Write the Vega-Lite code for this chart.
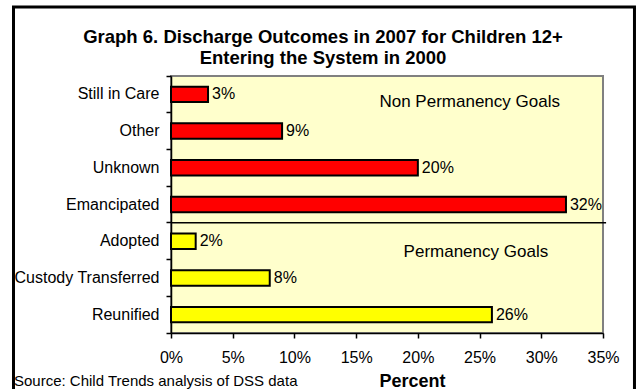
{
  "$schema": "https://vega.github.io/schema/vega-lite/v6.json",
  "width": 432,
  "height": 257,
  "autosize": "none",
  "padding": {"left": 171, "top": 76, "right": 33, "bottom": 56},
  "background": "white",
  "config": {
    "font": "Liberation Sans",
    "view": {"fill": "#FFFFCC", "stroke": "#808080", "strokeWidth": 2}
  },
  "title": {
    "text": ["Graph 6. Discharge Outcomes in 2007 for Children 12+", "Entering the System in 2000"],
    "font": "Liberation Sans",
    "fontSize": 18.5,
    "fontWeight": "bold",
    "color": "black",
    "anchor": "middle",
    "frame": "group",
    "dx": -64,
    "dy": 70,
    "offset": 8,
    "lineHeight": 21
  },
  "datasets": {
    "outcomes": [
      {"outcome": "Still in Care", "percent": 0.03, "group": "Non Permanency Goals"},
      {"outcome": "Other", "percent": 0.09, "group": "Non Permanency Goals"},
      {"outcome": "Unknown", "percent": 0.20, "group": "Non Permanency Goals"},
      {"outcome": "Emancipated", "percent": 0.32, "group": "Non Permanency Goals"},
      {"outcome": "Adopted", "percent": 0.02, "group": "Permanency Goals"},
      {"outcome": "Custody Transferred", "percent": 0.08, "group": "Permanency Goals"},
      {"outcome": "Reunified", "percent": 0.26, "group": "Permanency Goals"}
    ]
  },
  "layer": [
    {
      "data": {"values": [{"note": "Source: Child Trends analysis of DSS data"}]},
      "layer": [
        {
          "mark": {"type": "rect", "filled": false, "stroke": "black", "strokeWidth": 3, "clip": false},
          "encoding": {
            "x": {"datum": -0.1276, "type": "quantitative", "scale": {"domain": [0, 0.35], "nice": false, "zero": false}, "axis": null},
            "x2": {"datum": 0.3755},
            "y": {"datum": 1.2685, "type": "quantitative", "scale": {"domain": [0, 1], "nice": false, "zero": false}, "axis": null},
            "y2": {"datum": -0.3}
          }
        },
        {
          "mark": {"type": "text", "align": "left", "baseline": "alphabetic", "fontSize": 15, "color": "black", "font": "Liberation Sans"},
          "encoding": {
            "x": {"datum": -0.1272, "type": "quantitative"},
            "y": {"datum": -0.2062, "type": "quantitative"},
            "text": {"field": "note", "type": "nominal"}
          }
        }
      ]
    },
    {
      "layer": [
        {
          "data": {"name": "outcomes"},
          "mark": {"type": "bar", "stroke": "black", "strokeWidth": 2, "height": {"band": 0.42}},
          "encoding": {
            "y": {
              "field": "outcome",
              "type": "nominal",
              "sort": null,
              "scale": {
                "domain": ["Still in Care", "Other", "Unknown", "Emancipated", "Adopted", "Custody Transferred", "Reunified"],
                "paddingInner": 0,
                "paddingOuter": 0
              },
              "axis": {
                "orient": "left",
                "title": null,
                "bandPosition": 1,
                "tickExtra": true,
                "tickSize": 5,
                "tickWidth": 1.5,
                "tickColor": "black",
                "domainColor": "black",
                "domainWidth": 1.5,
                "labelFont": "Liberation Sans",
                "labelFontSize": 16,
                "labelColor": "black",
                "labelPadding": 7,
                "grid": false
              }
            },
            "x": {
              "field": "percent",
              "type": "quantitative",
              "scale": {"domain": [0, 0.35], "nice": false},
              "axis": {
                "orient": "bottom",
                "values": [0, 0.05, 0.1, 0.15, 0.2, 0.25, 0.3, 0.35],
                "format": ".0%",
                "labelFlush": false,
                "labelOverlap": false,
                "labelFont": "Liberation Sans",
                "labelFontSize": 16,
                "labelColor": "black",
                "labelPadding": 11,
                "tickSize": 5,
                "tickWidth": 1.5,
                "tickColor": "black",
                "domainColor": "black",
                "domainWidth": 1.5,
                "grid": false,
                "title": "Percent",
                "titleFont": "Liberation Sans",
                "titleFontSize": 18,
                "titleFontWeight": "bold",
                "titleColor": "black",
                "titleX": 241,
                "titleY": 53,
                "titleBaseline": "alphabetic",
                "titleAlign": "center"
              }
            },
            "color": {
              "field": "group",
              "type": "nominal",
              "scale": {"domain": ["Non Permanency Goals", "Permanency Goals"], "range": ["#FF0000", "#FFFF00"]},
              "legend": null
            }
          }
        },
        {
          "data": {"name": "outcomes"},
          "mark": {"type": "text", "align": "left", "baseline": "middle", "dx": 4, "fontSize": 16, "color": "black", "font": "Liberation Sans"},
          "encoding": {
            "y": {"field": "outcome", "type": "nominal", "sort": null},
            "x": {"field": "percent", "type": "quantitative"},
            "text": {"field": "percent", "type": "quantitative", "format": ".0%"}
          }
        },
        {
          "data": {"values": [{"note": "Non Permanency Goals"}]},
          "mark": {"type": "text", "align": "center", "baseline": "alphabetic", "dy": 12.6, "fontSize": 17, "color": "black", "font": "Liberation Sans"},
          "encoding": {
            "y": {"datum": "Still in Care", "type": "nominal"},
            "x": {"datum": 0.242, "type": "quantitative"},
            "text": {"field": "note", "type": "nominal"}
          }
        },
        {
          "data": {"values": [{"note": "Permanency Goals"}]},
          "mark": {"type": "text", "align": "center", "baseline": "alphabetic", "dy": 15.8, "fontSize": 17, "color": "black", "font": "Liberation Sans"},
          "encoding": {
            "y": {"datum": "Adopted", "type": "nominal"},
            "x": {"datum": 0.247, "type": "quantitative"},
            "text": {"field": "note", "type": "nominal"}
          }
        },
        {
          "data": {"values": [{"divider": "goal groups"}]},
          "mark": {"type": "rule", "color": "black", "strokeWidth": 1.5},
          "encoding": {
            "y": {"datum": "Adopted", "type": "nominal", "bandPosition": 0},
            "x": {"datum": 0, "type": "quantitative"},
            "x2": {"datum": 0.3525}
          }
        }
      ]
    }
  ],
  "resolve": {"scale": {"x": "independent", "y": "independent"}}
}
